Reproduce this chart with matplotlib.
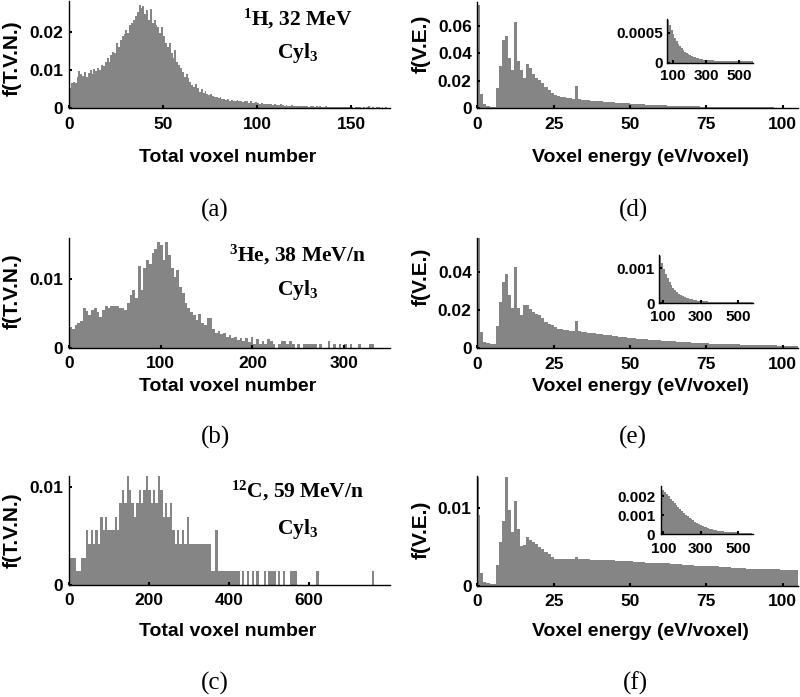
import matplotlib
matplotlib.use("Agg")
import matplotlib.pyplot as plt
from matplotlib.ticker import FuncFormatter

plt.rcParams['font.family'] = ['Liberation Sans', 'DejaVu Sans']
plt.rcParams['mathtext.fontset'] = 'custom'
plt.rcParams['mathtext.rm'] = 'Liberation Serif:bold'
plt.rcParams['mathtext.it'] = 'Liberation Serif:bold'
plt.rcParams['mathtext.bf'] = 'Liberation Serif:bold'

# ---------------- data ----------------
# (a) 1H, 32 MeV - total voxel number, bin width 1 (0..169)
a_values = [
    0.0053, 0.0066, 0.0070, 0.0066, 0.0083, 0.0099, 0.0090, 0.0085, 0.0096, 0.0083,
    0.0094, 0.0101, 0.0090, 0.0103, 0.0099, 0.0105, 0.0101, 0.0113, 0.0110, 0.0123,
    0.0132, 0.0123, 0.0140, 0.0149, 0.0145, 0.0171, 0.0162, 0.0180, 0.0189, 0.0196,
    0.0206, 0.0197, 0.0220, 0.0225, 0.0232, 0.0243, 0.0254, 0.0272, 0.0263, 0.0268,
    0.0248, 0.0259, 0.0232, 0.0260, 0.0224, 0.0231, 0.0219, 0.0213, 0.0197, 0.0215,
    0.0189, 0.0173, 0.0162, 0.0171, 0.0145, 0.0132, 0.0154, 0.0123, 0.0114, 0.0105,
    0.0096, 0.0083, 0.0090, 0.0079, 0.0070, 0.0061, 0.0057, 0.0064, 0.0053, 0.0044,
    0.0050, 0.0039, 0.0046, 0.0038, 0.0035, 0.0038, 0.0032, 0.0029, 0.0031, 0.0026,
    0.0029, 0.0025, 0.0024, 0.0022, 0.0025, 0.0020, 0.0022, 0.0018, 0.0020, 0.0022,
    0.0018, 0.0019, 0.0017, 0.0020, 0.0018, 0.0015, 0.0018, 0.0015, 0.0013, 0.0016,
    0.0013, 0.0011, 0.0013, 0.0011, 0.0012, 0.0011, 0.0011, 0.0010, 0.0009, 0.0011,
    0.0009, 0.0008, 0.0010, 0.0008, 0.0007, 0.0009, 0.0007, 0.0006, 0.0008, 0.0006,
    0.0007, 0.0006, 0.0005, 0.0007, 0.0006, 0.0005, 0.0006, 0.0004, 0.0005, 0.0006,
    0.0004, 0.0005, 0.0004, 0.0005, 0.0004, 0.0004, 0.0005, 0.0004, 0.0004, 0.0004,
    0.0004, 0.0003, 0.0003, 0.0004, 0.0003, 0.0003, 0.0004, 0.0003, 0.0004, 0.0003,
    0.0003, 0.0002, 0.0003, 0.0004, 0.0003, 0.0002, 0.0003, 0.0002, 0.0003, 0.0005,
    0.0002, 0.0003, 0.0002, 0.0004, 0.0003, 0.0002, 0.0003, 0.0002, 0.0003, 0.0002,
]
a_bin_width = 1

# (b) 3He, 38 MeV/n - bin width 3 (0..333)
b_values = [
    0.0031, 0.0028, 0.0033, 0.0036, 0.0039, 0.0058, 0.0053, 0.0048, 0.0055, 0.0058,
    0.0052, 0.0045, 0.0055, 0.0061, 0.0058, 0.0061, 0.0061, 0.0061, 0.0058, 0.0058,
    0.0055, 0.0065, 0.0077, 0.0084, 0.0072, 0.0119, 0.0084, 0.0116, 0.0128, 0.0123,
    0.0138, 0.0145, 0.0155, 0.0150, 0.0128, 0.0154, 0.0135, 0.0116, 0.0104, 0.0114,
    0.0089, 0.0080, 0.0065, 0.0058, 0.0052, 0.0048, 0.0040, 0.0050, 0.0036, 0.0033,
    0.0043, 0.0043, 0.0028, 0.0022, 0.0024, 0.0020, 0.0021, 0.0016, 0.0019, 0.0014,
    0.0016, 0.0011, 0.0014, 0.0010, 0.0014, 0.0009, 0.0016, 0.0006, 0.0013, 0.0006,
    0.0010, 0.0006, 0.0013, 0.0010, 0.0006, 0.0000, 0.0006, 0.0010, 0.0010, 0.0006,
    0.0010, 0.0006, 0.0000, 0.0006, 0.0000, 0.0006, 0.0006, 0.0006, 0.0006, 0.0006,
    0.0000, 0.0006, 0.0000, 0.0000, 0.0010, 0.0000, 0.0006, 0.0000, 0.0006, 0.0000,
    0.0006, 0.0000, 0.0006, 0.0000, 0.0000, 0.0006, 0.0000, 0.0000, 0.0000, 0.0006,
    0.0006, 0.0000,
]
b_bin_width = 3

# (c) 12C, 59 MeV/n - counts per bin (bin width 6), 720 tracks
c_counts = [
    2, 2, 2, 1, 1, 2, 2, 4, 3, 4, 3, 4, 3, 5, 4, 5, 4, 4, 4, 5,
    4, 6, 7, 6, 8, 7, 6, 5, 6, 7, 6, 7, 8, 7, 6, 7, 6, 8, 7, 5,
    6, 5, 6, 4, 3, 4, 3, 4, 3, 5, 3, 3, 3, 3, 3, 3, 3, 3, 3, 1,
    1, 4, 1, 1, 1, 1, 1, 1, 1, 1, 1, 0, 1, 0, 1, 0, 1, 0, 1, 0,
    0, 1, 0, 1, 1, 1, 0, 1, 0, 1, 0, 0, 1, 1, 1, 0, 0, 0, 0, 0,
    0, 0, 0, 1, 0, 0, 0, 0, 0, 0, 0, 0, 0, 0, 0, 0, 0, 0, 0, 0,
    0, 0, 0, 0, 0, 0, 1,
]
c_bin_width = 6
c_tracks = 720

# (d) 1H voxel energy, bin width 1 eV (0..104)
d_values = [
    0.0750, 0.0102, 0.0031, 0.0017, 0.0012, 0.0010, 0.0150, 0.0310, 0.0500, 0.0525,
    0.0368, 0.0279, 0.0625, 0.0346, 0.0280, 0.0223, 0.0320, 0.0295, 0.0250, 0.0218,
    0.0206, 0.0182, 0.0157, 0.0133, 0.0113, 0.0099, 0.0092, 0.0085, 0.0080, 0.0075,
    0.0073, 0.0070, 0.0162, 0.0065, 0.0063, 0.0060, 0.0058, 0.0056, 0.0054, 0.0052,
    0.0050, 0.0048, 0.0046, 0.0045, 0.0043, 0.0041, 0.0040, 0.0038, 0.0036, 0.0035,
    0.0033, 0.0032, 0.0031, 0.0030, 0.0028, 0.0027, 0.0026, 0.0025, 0.0024, 0.0023,
    0.0022, 0.0021, 0.0020, 0.0020, 0.0019, 0.0018, 0.0017, 0.0017, 0.0016, 0.0015,
    0.0015, 0.0014, 0.0014, 0.0013, 0.0013, 0.0012, 0.0012, 0.0011, 0.0011, 0.0010,
    0.0010, 0.0010, 0.0009, 0.0009, 0.0009, 0.0008, 0.0008, 0.0008, 0.0007, 0.0007,
    0.0007, 0.0007, 0.0006, 0.0006, 0.0006, 0.0006, 0.0006, 0.0005, 0.0005, 0.0005,
    0.0005, 0.0005, 0.0004, 0.0004, 0.0004,
]
# (e) 3He voxel energy
e_values = [
    0.0574, 0.0087, 0.0035, 0.0026, 0.0020, 0.0020, 0.0118, 0.0243, 0.0345, 0.0390,
    0.0278, 0.0212, 0.0425, 0.0210, 0.0174, 0.0226, 0.0226, 0.0205, 0.0190, 0.0180,
    0.0175, 0.0160, 0.0139, 0.0125, 0.0120, 0.0110, 0.0103, 0.0099, 0.0096, 0.0094,
    0.0092, 0.0090, 0.0142, 0.0088, 0.0086, 0.0084, 0.0082, 0.0080, 0.0078, 0.0076,
    0.0074, 0.0071, 0.0069, 0.0067, 0.0065, 0.0063, 0.0061, 0.0059, 0.0057, 0.0055,
    0.0053, 0.0052, 0.0050, 0.0049, 0.0047, 0.0046, 0.0044, 0.0043, 0.0042, 0.0041,
    0.0040, 0.0039, 0.0038, 0.0037, 0.0036, 0.0035, 0.0034, 0.0033, 0.0032, 0.0031,
    0.0030, 0.0029, 0.0028, 0.0028, 0.0027, 0.0026, 0.0025, 0.0025, 0.0024, 0.0023,
    0.0023, 0.0022, 0.0021, 0.0021, 0.0020, 0.0020, 0.0019, 0.0019, 0.0018, 0.0018,
    0.0017, 0.0017, 0.0016, 0.0016, 0.0016, 0.0015, 0.0015, 0.0015, 0.0014, 0.0014,
    0.0014, 0.0013, 0.0013, 0.0013, 0.0012,
]
# (f) 12C voxel energy (first bin split in two halves)
f_left = [0, 0.5] + list(range(1, 105))
f_width = [0.5, 0.5] + [1] * 104
f_values = [
    0.0141, 0.0092, 0.0017, 0.0005, 0.0003, 0.0002, 0.0002, 0.0027, 0.0057, 0.0084,
    0.0141, 0.0098, 0.0070, 0.0110, 0.0074, 0.0051, 0.0053, 0.0063, 0.0059, 0.0056,
    0.0054, 0.0050, 0.0047, 0.0044, 0.0041, 0.0037, 0.0035, 0.0034, 0.0034, 0.0034,
    0.0034, 0.0034, 0.0034, 0.0037, 0.0034, 0.0034, 0.0034, 0.0034, 0.0033, 0.0033,
    0.0033, 0.0033, 0.0033, 0.0033, 0.0033, 0.0033, 0.0032, 0.0032, 0.0032, 0.0032,
    0.0032, 0.0032, 0.0031, 0.0031, 0.0031, 0.0031, 0.0030, 0.0030, 0.0030, 0.0030,
    0.0029, 0.0029, 0.0029, 0.0029, 0.0028, 0.0028, 0.0028, 0.0028, 0.0027, 0.0027,
    0.0027, 0.0027, 0.0026, 0.0026, 0.0026, 0.0026, 0.0025, 0.0025, 0.0025, 0.0025,
    0.0024, 0.0024, 0.0024, 0.0024, 0.0023, 0.0023, 0.0023, 0.0023, 0.0023, 0.0022,
    0.0022, 0.0022, 0.0022, 0.0022, 0.0021, 0.0021, 0.0021, 0.0021, 0.0021, 0.0021,
    0.0020, 0.0020, 0.0020, 0.0020, 0.0020, 0.0020,
]
ve_bin_width = 1

# insets: bin width 10 eV
d_inset_start = 70
d_inset_values = [
    0.00071, 0.00062, 0.00054, 0.00047, 0.00041, 0.00036, 0.00031, 0.00027, 0.00024, 0.00021,
    0.00018, 0.00016, 0.00014, 0.00012, 0.00011, 0.00010, 0.00009, 0.00008, 0.00007, 0.00006,
    0.00006, 0.00005, 0.00005, 0.00004, 0.00004, 0.00004, 0.00004, 0.00004, 0.00003, 0.00003,
    0.00003, 0.00003, 0.00003, 0.00003, 0.00003, 0.00003, 0.00003, 0.00002, 0.00002, 0.00002,
    0.00002, 0.00002, 0.00002, 0.00002, 0.00002, 0.00002, 0.00002, 0.00002, 0.00002, 0.00002,
    0.00002,
]
e_inset_start = 80
e_inset_values = [
    0.00136, 0.00115, 0.00098, 0.00083, 0.00071, 0.00060, 0.00051, 0.00043, 0.00037, 0.00032,
    0.00028, 0.00024, 0.00021, 0.00018, 0.00016, 0.00014, 0.00012, 0.00011, 0.00010, 0.00009,
    0.00008, 0.00007, 0.00007, 0.00006, 0.00006, 0.00006, 0.00005, 0.00005, 0.00005, 0.00005,
    0.00004, 0.00004, 0.00004, 0.00004, 0.00004, 0.00004, 0.00004, 0.00003, 0.00003, 0.00003,
    0.00003, 0.00003, 0.00003, 0.00003, 0.00003, 0.00003, 0.00003, 0.00003, 0.00003, 0.00003,
]
f_inset_start = 85
f_inset_values = [
    0.00246, 0.00236, 0.00224, 0.00212, 0.00200, 0.00188, 0.00176, 0.00164, 0.00153, 0.00142,
    0.00132, 0.00122, 0.00113, 0.00104, 0.00096, 0.00088, 0.00081, 0.00074, 0.00067, 0.00061,
    0.00055, 0.00050, 0.00045, 0.00041, 0.00037, 0.00033, 0.00030, 0.00027, 0.00024, 0.00022,
    0.00020, 0.00018, 0.00016, 0.00015, 0.00014, 0.00013, 0.00012, 0.00011, 0.00011, 0.00010,
    0.00010, 0.00009, 0.00009, 0.00008, 0.00008, 0.00008, 0.00007, 0.00007, 0.00007,
]
inset_bin_width = 10

ions = [r'$^{1}$H, 32 MeV', r'$^{3}$He, 38 MeV/n', r'$^{12}$C, 59 MeV/n']
target = r'Cyl$_{3}$'
panel_letters = ['(a)', '(b)', '(c)', '(d)', '(e)', '(f)']
xlabel_left = 'Total voxel number'
xlabel_right = 'Voxel energy (eV/voxel)'
ylabel_left = 'f(T.V.N.)'
ylabel_right = 'f(V.E.)'

# ---------------- layout helpers ----------------
W, H = 800, 697
BAR = '#858585'
fig = plt.figure(figsize=(W / 100, H / 100), dpi=100)


def add_ax(left, right, bottom, top):
    return fig.add_axes([left / W, 1 - bottom / H, (right - left) / W, (bottom - top) / H])


fmt = FuncFormatter(lambda v, p: '%g' % v)


def style(ax, xticks, yticks, xlim, ylim, size=12.5, xpad=6, ypad=4):
    ax.set_xlim(*xlim)
    ax.set_ylim(*ylim)
    ax.set_xticks(xticks)
    ax.set_yticks(yticks)
    ax.xaxis.set_major_formatter(fmt)
    ax.yaxis.set_major_formatter(fmt)
    for s in ['top', 'right']:
        ax.spines[s].set_visible(False)
    for s in ['left', 'bottom']:
        ax.spines[s].set_linewidth(1.0)
    ax.tick_params(direction='in', length=2.5, width=1.5, labelsize=size)
    ax.tick_params(axis='x', pad=xpad)
    ax.tick_params(axis='y', pad=ypad)
    for lab in ax.get_xticklabels() + ax.get_yticklabels():
        lab.set_fontweight('bold')
    ax.patch.set_alpha(0)


def bars(ax, lefts, heights, widths):
    ax.bar(lefts, heights, width=widths, align='edge', color=BAR, edgecolor='none', linewidth=0)


# (a)
ax = add_ax(69, 390, 108.3, 1.1)
bars(ax, [i * a_bin_width for i in range(len(a_values))], a_values, a_bin_width)
style(ax, [0, 50, 100, 150], [0, 0.01, 0.02], (0, 170.5), (0, 0.0282))
# (b)
ax = add_ax(69, 390, 347.7, 238.3)
bars(ax, [i * b_bin_width for i in range(len(b_values))], b_values, b_bin_width)
style(ax, [0, 100, 200, 300], [0, 0.01], (0, 350), (0, 0.016))
# (c)
ax = add_ax(69, 390, 585, 476)
bars(ax, [i * c_bin_width for i in range(len(c_counts))], [c / c_tracks for c in c_counts], c_bin_width)
style(ax, [0, 200, 400, 600], [0, 0.01], (0, 802), (0, 0.0111))
# (d)
ax = add_ax(477.3, 798, 108.3, 2)
bars(ax, [i * ve_bin_width for i in range(len(d_values))], d_values, ve_bin_width)
style(ax, [0, 25, 50, 75, 100], [0, 0.02, 0.04, 0.06], (0, 105), (0, 0.0773))
# (e)
ax = add_ax(477.3, 798, 348.3, 238.3)
bars(ax, [i * ve_bin_width for i in range(len(e_values))], e_values, ve_bin_width)
style(ax, [0, 25, 50, 75, 100], [0, 0.02, 0.04], (0, 105), (0, 0.0574))
# (f)
ax = add_ax(477.3, 798, 585.7, 476)
bars(ax, f_left, f_values, f_width)
style(ax, [0, 25, 50, 75, 100], [0, 0.01], (0, 105), (0, 0.0142))

# insets
ax = add_ax(667.3, 753.3, 62.7, 19.3)
bars(ax, [d_inset_start + i * inset_bin_width for i in range(len(d_inset_values))], d_inset_values, inset_bin_width)
style(ax, [100, 300, 500], [0, 0.0005], (67.6, 583.6), (0, 0.000723), size=11, xpad=4.5, ypad=3)
ax = add_ax(659.3, 752.7, 303.3, 255)
bars(ax, [e_inset_start + i * inset_bin_width for i in range(len(e_inset_values))], e_inset_values, inset_bin_width)
style(ax, [100, 300, 500], [0, 0.001], (80.3, 576), (0, 0.00138), size=11, xpad=5, ypad=3.5)
ax = add_ax(660.7, 753.3, 534.3, 486)
bars(ax, [f_inset_start + i * inset_bin_width for i in range(len(f_inset_values))], f_inset_values, inset_bin_width)
style(ax, [100, 300, 500], [0, 0.001, 0.002], (86, 580), (0, 0.00255), size=11, xpad=5.5, ypad=4)


def ftext(x, y, s, **kw):
    fig.text(x / W, 1 - y / H, s, ha='center', va='center', **kw)


# axis labels
for y in [158, 387, 631]:
    ftext(228, y, xlabel_left, fontsize=14, fontweight='bold')
    ftext(640, y, xlabel_right, fontsize=14, fontweight='bold')
for y in [58, 291, 530]:
    ftext(12, y, ylabel_left, fontsize=15, fontweight='bold', rotation=90)
for y in [44, 277, 530]:
    ftext(421, y, ylabel_right, fontsize=15, fontweight='bold', rotation=90)

# panel letters
serif = ['Liberation Serif', 'DejaVu Serif']
for (x, y), s in zip([(215, 210), (215, 437), (215, 683), (633, 210), (633, 437), (635, 683)], panel_letters):
    ftext(x, y, s, fontsize=18, family=serif)

# annotations
for (y1, y2), s in zip([(19, 53), (255, 290), (491, 529)], ions):
    ftext(298, y1, s, fontsize=15.5, family=serif, fontweight='bold')
    ftext(298, y2, target, fontsize=15.5, family=serif, fontweight='bold')

fig.savefig('out.png', dpi=100)
